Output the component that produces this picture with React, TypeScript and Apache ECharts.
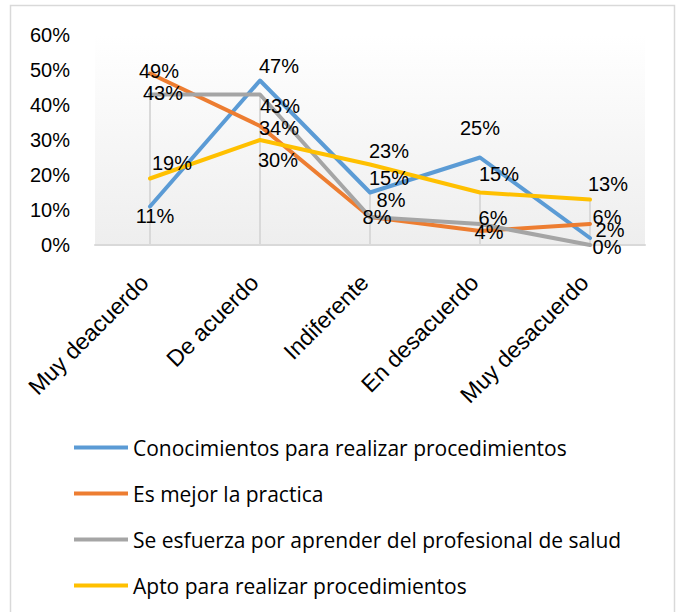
import React, { useEffect, useRef } from "react";
import * as echarts from "echarts";

const categories = ["Muy deacuerdo", "De acuerdo", "Indiferente", "En desacuerdo", "Muy desacuerdo"];
const seriesNames = [
  "Conocimientos para realizar procedimientos",
  "Es mejor la practica",
  "Se esfuerza por aprender del profesional de salud",
  "Apto para realizar procedimientos",
];
const conocimientos = [11, 47, 15, 25, 2];
const mejorPractica = [49, 34, 8, 4, 6];
const seEsfuerza = [43, 43, 8, 6, 0];
const apto = [19, 30, 23, 15, 13];
const dropLineTops = [43, 43, 15, 15, 13];
const yMin = 0;
const yMax = 60;
const yStep = 10;

const colors = ["#5b9bd5", "#ed7d31", "#a5a5a5", "#ffc000"];
// label offsets (dx, dy) from each point, per series
const labelOffsets = [
  [[5, 9], [19, -15], [19, -15], [0, -30], [20, -8]],
  [[9, -3], [19, 2], [7, 0], [9, 1], [17, -7]],
  [[13, -2], [20, 11], [21, -17], [13, -6], [17, 2]],
  [[22, -16], [18, 20], [19, -14], [19, -19], [18, -16]],
];

const FONT = "'Liberation Sans', Arial, sans-serif";
const LEGEND_FONT = "'Open Sans', 'Liberation Sans', sans-serif";

export default function App() {
  const ref = useRef<HTMLDivElement>(null);
  useEffect(() => {
    if (!ref.current) return;
    const chart = echarts.init(ref.current, undefined, { renderer: "svg" });
    const values = [conocimientos, mejorPractica, seEsfuerza, apto];
    const lineSeries = values.map((vals, si) => ({
      name: seriesNames[si],
      type: "line",
      symbol: "circle",
      symbolSize: 1,
      showSymbol: true,
      lineStyle: { color: colors[si], width: 4, cap: "round", join: "round" },
      itemStyle: { color: colors[si] },
      z: 3,
      label: {
        show: true,
        position: "inside",
        formatter: "{c}%",
        color: "#000",
        fontFamily: FONT,
        fontSize: 20,
      },
      data: vals.map((v, i) => ({
        value: v,
        label: { offset: labelOffsets[si][i] },
      })),
    }));
    chart.setOption({
      animation: false,
      backgroundColor: "#fff",
      color: colors,
      graphic: [
        {
          type: "rect",
          shape: { x: 10.5, y: 5.5, width: 664, height: 620 },
          style: { fill: "none", stroke: "#d9d9d9", lineWidth: 1.5 },
          silent: true,
          z: -10,
        },
      ],
      grid: {
        left: 95,
        right: 33,
        top: 35,
        bottom: 367,
        show: true,
        borderWidth: 0,
        backgroundColor: new echarts.graphic.LinearGradient(0, 0, 0, 1, [
          { offset: 0, color: "#ffffff" },
          { offset: 1, color: "#eeeeee" },
        ]),
      },
      legend: {
        orient: "vertical",
        left: 74,
        top: 437,
        padding: 0,
        data: seriesNames,
        icon: "rect",
        itemWidth: 54,
        itemHeight: 4,
        itemGap: 25,
        textStyle: { fontFamily: LEGEND_FONT, fontSize: 21, color: "#000", lineHeight: 20 },
      },
      xAxis: {
        type: "category",
        data: categories,
        boundaryGap: true,
        axisLine: { show: true, lineStyle: { color: "#d9d9d9", width: 2 } },
        axisTick: { show: false },
        splitLine: { show: false },
        axisLabel: {
          show: true,
          rotate: 45,
          margin: 28,
          padding: [0, 8, 0, 0],
          interval: 0,
          color: "#000",
          fontFamily: FONT,
          fontSize: 23,
        },
      },
      yAxis: {
        type: "value",
        min: yMin,
        max: yMax,
        interval: yStep,
        axisLine: { show: false },
        axisTick: { show: false },
        splitLine: { show: false },
        axisLabel: {
          formatter: "{value}%",
          margin: 25,
          color: "#000",
          fontFamily: FONT,
          fontSize: 20,
        },
      },
      series: [
        {
          name: "drop",
          type: "bar",
          barWidth: 2,
          itemStyle: { color: "#d9d9d9" },
          z: 1,
          silent: true,
          data: dropLineTops,
        },
        ...lineSeries,
      ],
    });
    return () => chart.dispose();
  }, []);
  return (
    <div
      ref={ref}
      style={{ position: "absolute", left: 0, top: 0, width: 678, height: 612 }}
    />
  );
}
